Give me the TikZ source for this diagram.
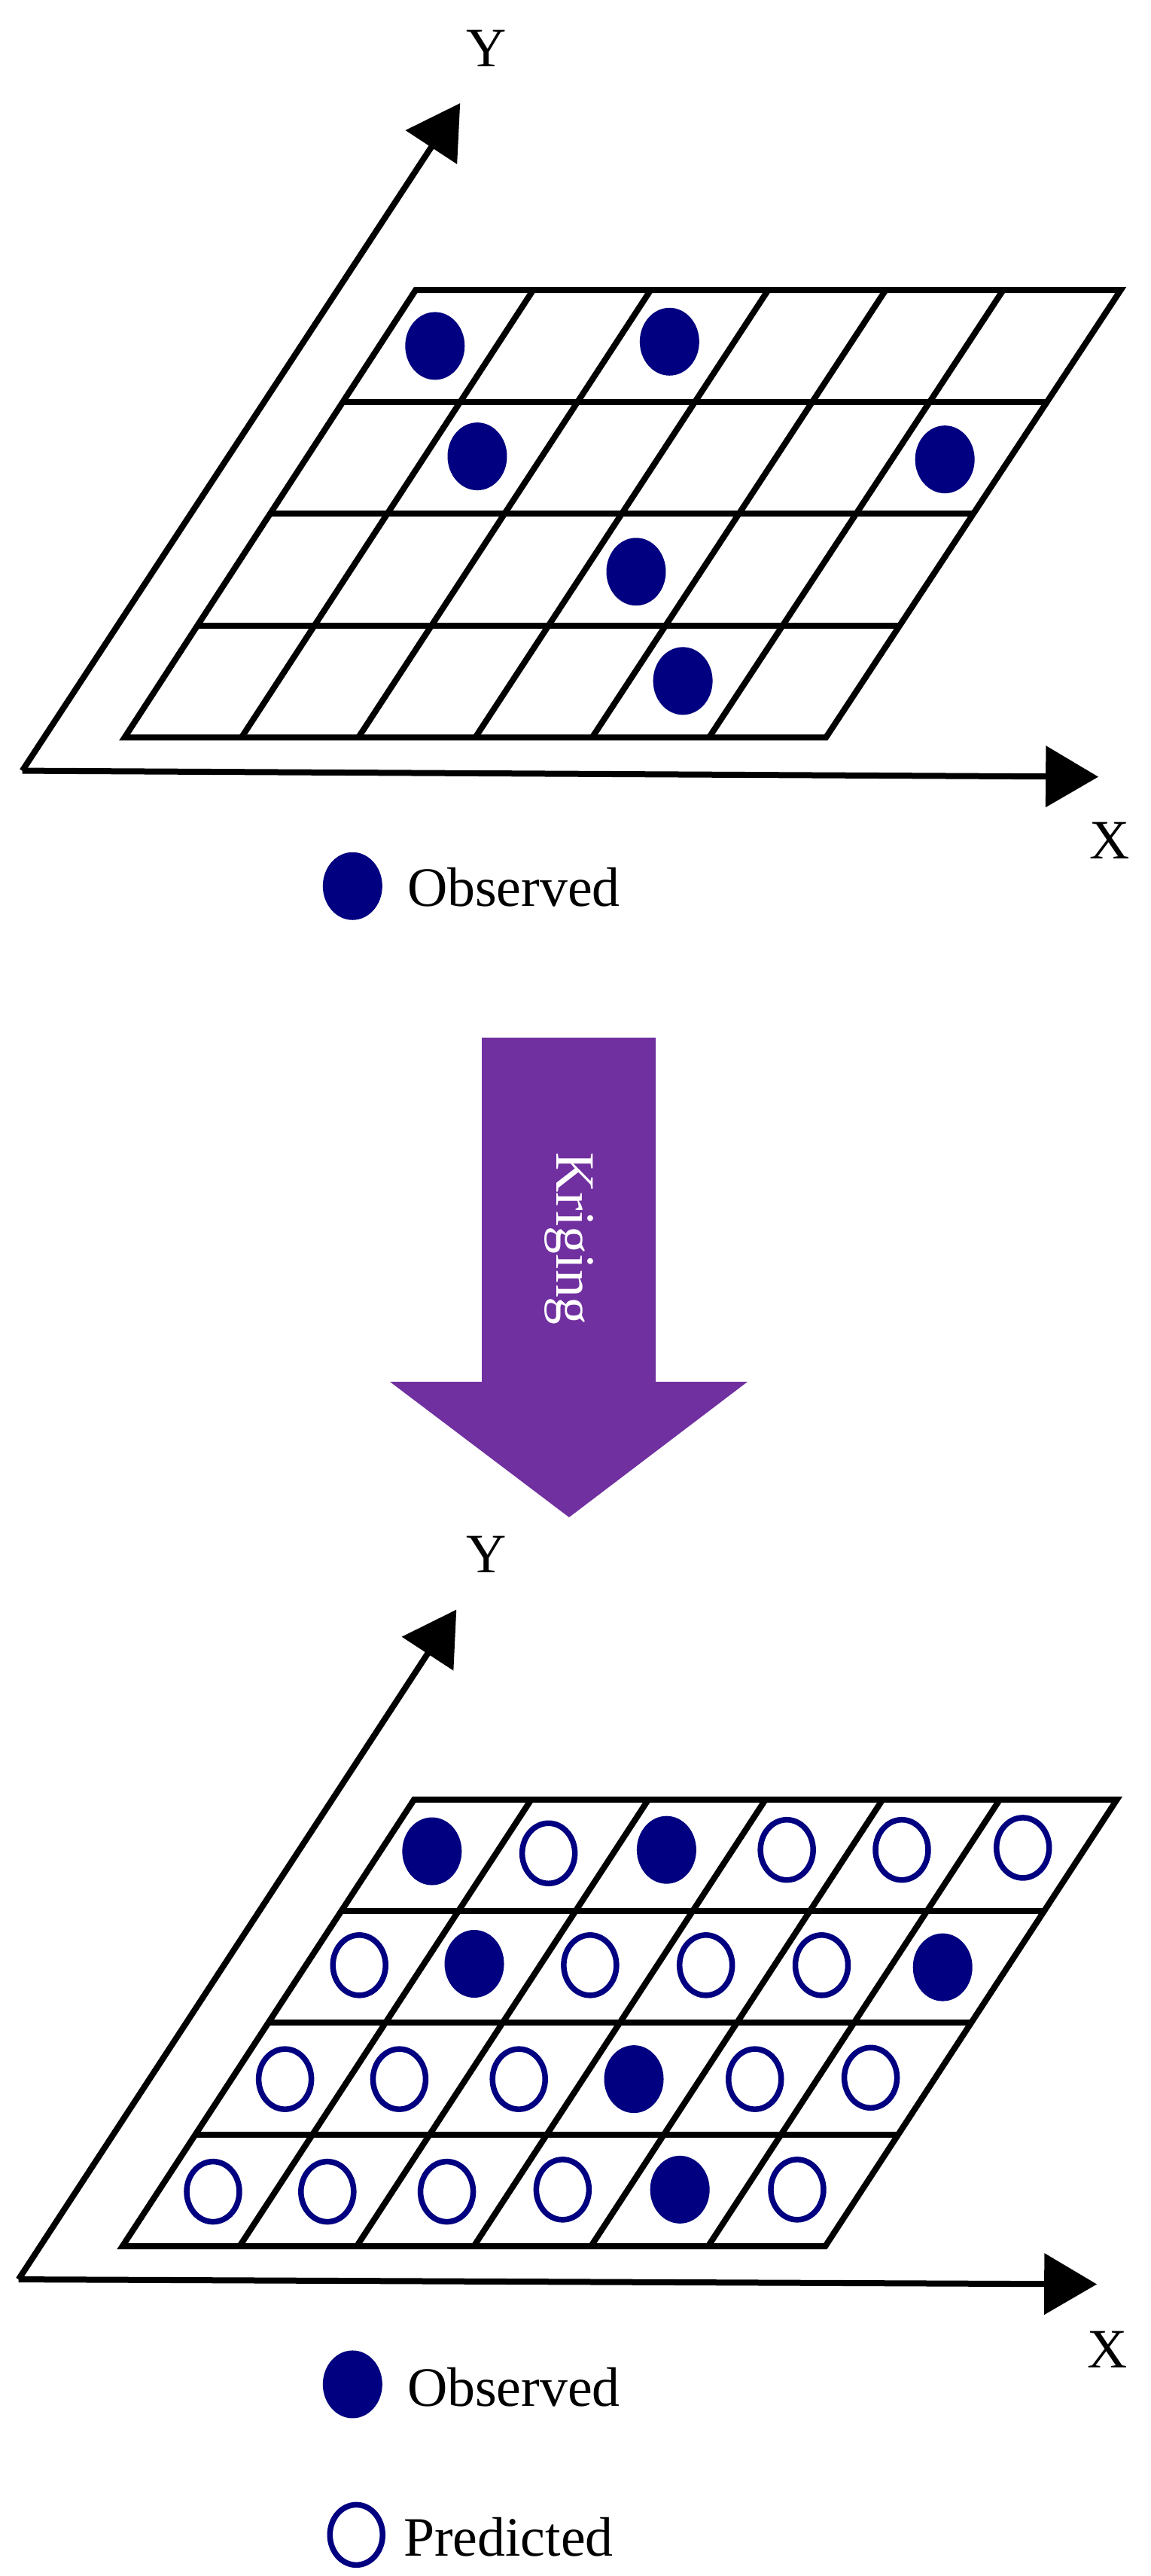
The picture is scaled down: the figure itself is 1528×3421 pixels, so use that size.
\documentclass[tikz,border=0pt]{standalone}
\usepackage{fontspec}
\setmainfont{Liberation Serif}
\usetikzlibrary{arrows.meta,calc,shapes.geometric}
\definecolor{navy}{HTML}{000080}
\definecolor{purp}{HTML}{7030A0}
\begin{document}
\begin{tikzpicture}[x=0.1mm,y=-0.1mm,
  grid/.style={line width=0.8mm,line join=miter},
  axis/.style={line width=0.8mm,-{Triangle[length=7mm,width=8mm]}},
  obs/.style={fill=navy,draw=none,ellipse,minimum width=7.9mm,minimum height=9mm,inner sep=0pt},
  pred/.style={draw=navy,line width=0.75mm,fill=white,ellipse,minimum width=7mm,minimum height=8mm,inner sep=0pt},
  lbl/.style={font=\fontsize{21}{25}\selectfont,inner sep=0pt}]
\path[use as bounding box,fill=white] (0,0) rectangle (1528,3421);
% ---------- top panel ----------
\begin{scope}[xscale=0.986,yscale=0.806]
  \coordinate (tO) at (30,1270);
  \coordinate (tX) at (1480,1280);
  \coordinate (tY) at (620,170);
  \draw[axis] (tO) -- (tX);
  \draw[axis] (tO) -- (tY);
  \node[lbl] (tYl) at (655,80) {Y};
  \node[lbl] (tXl) at (1495,1385) {X};
  \coordinate (tBL) at (168,1215);
  \coordinate (tBR) at (1113,1215);
  \coordinate (tTR) at (1510,478);
  \coordinate (tTL) at (560,478);
  \foreach \f in {0.25,0.5,0.75}
    \draw[grid] ($(tBL)!\f!(tTL)$) -- ($(tBR)!\f!(tTR)$);
  \foreach \f in {1,2,3,4,5}
    \draw[grid] ($(tBL)!\f/6!(tBR)$) -- ($(tTL)!\f/6!(tTR)$);
  \draw[grid] (tBL) -- (tBR) -- (tTR) -- (tTL) -- cycle;
  \node[obs] (t1) at (586,570) {};
  \node[obs] (t2) at (902,563) {};
  \node[obs] (t3) at (643,752) {};
  \node[obs] (t4) at (1273,757) {};
  \node[obs] (t5) at (857,942) {};
  \node[obs] (t6) at (920,1122) {};
  \node[obs] (tLo) at (475,1460) {};
  \node[lbl,anchor=west] (tLot) at (548,1462) {Observed};
\end{scope}
% ---------- arrow ----------
\fill[purp] (640,1378) -- (871,1378) -- (871,1835) -- (993,1835) -- (756,2015) -- (518,1835) -- (640,1835) -- cycle;
\node[lbl,text=white,rotate=-90] (kr) at (756,1645) {Kriging};
% ---------- bottom panel ----------
\begin{scope}[shift={(0,2000)},xscale=0.986,yscale=0.917]
  \coordinate (bO) at (25,1120);
  \coordinate (bX) at (1478,1127);
  \coordinate (bY) at (615,150);
  \draw[axis] (bO) -- (bX);
  \draw[axis] (bO) -- (bY);
  \node[lbl] (bYl) at (655,70) {Y};
  \node[lbl] (bXl) at (1492,1222) {X};
  \coordinate (bBL) at (165,1072);
  \coordinate (bBR) at (1112,1072);
  \coordinate (bTR) at (1505,425);
  \coordinate (bTL) at (558,425);
  \foreach \f in {0.25,0.5,0.75}
    \draw[grid] ($(bBL)!\f!(bTL)$) -- ($(bBR)!\f!(bTR)$);
  \foreach \f in {1,2,3,4,5}
    \draw[grid] ($(bBL)!\f/6!(bBR)$) -- ($(bTL)!\f/6!(bTR)$);
  \draw[grid] (bBL) -- (bBR) -- (bTR) -- (bTL) -- cycle;
  % row 1
  \node[obs] (r11) at (582,500) {};
  \node[pred] (r12) at (739,503) {};
  \node[obs] (r13) at (898,498) {};
  \node[pred] (r14) at (1060,498) {};
  \node[pred] (r15) at (1215,498) {};
  \node[pred] (r16) at (1378,495) {};
  % row 2
  \node[pred] (r21) at (484,665) {};
  \node[obs] (r22) at (639,663) {};
  \node[pred] (r23) at (795,665) {};
  \node[pred] (r24) at (951,665) {};
  \node[pred] (r25) at (1107,665) {};
  \node[obs] (r26) at (1270,668) {};
  % row 3
  \node[pred] (r31) at (384,830) {};
  \node[pred] (r32) at (538,830) {};
  \node[pred] (r33) at (699,830) {};
  \node[obs] (r34) at (854,830) {};
  \node[pred] (r35) at (1017,830) {};
  \node[pred] (r36) at (1173,828) {};
  % row 4
  \node[pred] (r41) at (287,993) {};
  \node[pred] (r42) at (441,993) {};
  \node[pred] (r43) at (602,993) {};
  \node[pred] (r44) at (758,990) {};
  \node[obs] (r45) at (916,990) {};
  \node[pred] (r46) at (1074,990) {};
  % legend
  \node[obs] (bLo) at (475,1272) {};
  \node[lbl,anchor=west] (bLot) at (548,1276) {Observed};
  \node[pred] (bLp) at (480,1490) {};
  \node[lbl,anchor=west] (bLpt) at (543,1493) {Predicted};
\end{scope}
\end{tikzpicture}
\end{document}
